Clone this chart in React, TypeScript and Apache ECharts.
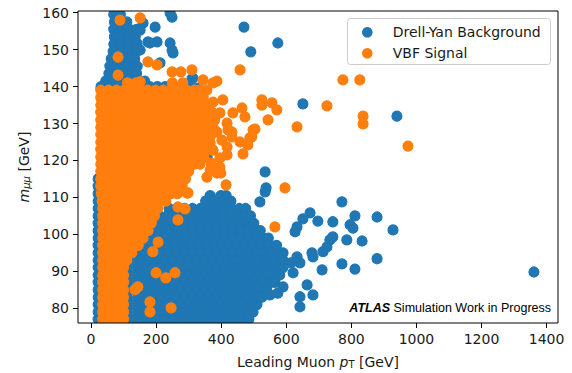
import React, { useEffect, useRef } from "react";
import * as echarts from "echarts";

type Row = [number, number[]];

// ---------------- axes ----------------
const X_TICKS = [0, 200, 400, 600, 800, 1000, 1200, 1400];
const Y_TICKS = [80, 90, 100, 110, 120, 130, 140, 150, 160];
const X_RANGE = [-40, 1435];
const Y_RANGE = [76, 160.46];
const SERIES_NAMES = ["Drell-Yan Background", "VBF Signal"];
const COLORS = ["#1f77b4", "#ff7f0e"];

// ---------------- Drell-Yan (blue) ----------------
// rows: [m_mumu, [leading muon pT ...]]
const dyUpperRows: Row[] = [
  [159.5, [70, 90]],
  [157.5, [72, 95, 110]],
  [155.5, [70, 94, 118, 140]],
  [153.5, [72, 96, 114, 136]],
  [151.5, [70, 94, 118, 141]],
  [149.5, [68, 92, 116, 140]],
  [147.5, [62, 86, 110, 134]],
  [145.5, [58, 82, 106, 130, 142]],
  [143.5, [55, 79, 103, 127, 140]],
  [141.5, [45, 69, 93, 117, 141, 165]],
  [140.0, [31, 60, 84, 108, 132, 156, 180, 204, 228, 252, 276, 300]],
];

const dyLeftStrip: number[][] = [
  [22, 115], [22, 113], [22, 111], [22, 109], [22, 107], [22, 105], [22, 103],
  [22, 101], [22, 99], [22, 97], [22, 95], [22, 93], [22, 91], [22, 89],
  [22, 87], [22, 85], [22, 83], [22, 81], [22, 79], [22, 77],
];

const dyLowerRows: Row[] = [
  [110.5, [366, 399, 415]],
  [109, [352, 380, 405, 430]],
  [107, [240, 264, 288, 312, 336, 360, 384, 408, 432, 456, 475]],
  [105, [210, 234, 258, 282, 306, 330, 354, 378, 402, 426, 450, 474, 490]],
  [103, [190, 214, 238, 262, 286, 310, 334, 358, 382, 406, 430, 454, 478, 500]],
  [101, [170, 194, 218, 242, 266, 290, 314, 338, 362, 386, 410, 434, 458, 482, 506, 520]],
  [99, [150, 174, 198, 222, 246, 270, 294, 318, 342, 366, 390, 414, 438, 462, 486, 510, 530, 545]],
  [97, [140, 162, 186, 210, 234, 258, 282, 306, 330, 354, 378, 402, 426, 450, 474, 498, 522, 546, 570]],
  [95, [120, 144, 168, 192, 216, 240, 264, 288, 312, 336, 360, 384, 408, 432, 456, 480, 504, 528, 552, 576, 590]],
  [93, [112, 132, 156, 180, 204, 228, 252, 276, 300, 324, 348, 372, 396, 420, 444, 468, 492, 516, 540, 564, 590]],
  [91, [112, 144, 168, 192, 216, 240, 264, 288, 312, 336, 360, 384, 408, 432, 456, 480, 504, 528, 552, 576, 590]],
  [89, [112, 132, 156, 180, 204, 228, 252, 276, 300, 324, 348, 372, 396, 420, 444, 468, 492, 516, 540, 564, 580]],
  [87, [112, 144, 168, 192, 216, 240, 264, 288, 312, 336, 360, 384, 408, 432, 456, 480, 504, 528, 552, 565]],
  [85, [112, 132, 156, 180, 204, 228, 252, 276, 300, 324, 348, 372, 396, 420, 444, 468, 492, 516, 540]],
  [83, [112, 144, 168, 192, 216, 240, 264, 288, 312, 336, 360, 384, 408, 432, 456, 480, 504, 525]],
  [81, [112, 132, 156, 180, 204, 228, 252, 276, 300, 324, 348, 372, 396, 420, 444, 468, 492, 510]],
  [79, [112, 144, 168, 192, 216, 240, 264, 288, 312, 336, 360, 384, 408, 432, 456, 480, 495]],
  [77, [112, 132, 156, 180, 204, 228, 252, 276, 300, 324, 348, 372, 396, 420, 444, 468, 485]],
];

const dyScattered: number[][] = [
  [31, 139.6], [175, 152.1], [203, 152.1], [181, 151.8], [243, 160.0], [249, 158.8],
  [252, 149.1], [249, 149.9], [243, 151.8], [212, 146.4], [197, 156.1], [160, 157.2],
  [151, 155.3], [141, 151.8], [151, 149.9], [114, 153.4], [470, 156.1], [491, 149.4],
  [574, 151.8], [310, 142.1], [329, 139.6], [313, 142.3], [233, 139.1], [651, 135.3],
  [940, 132.0], [357, 120.9],
  [535, 116.9], [538, 112.6], [535, 111.5], [519, 108.8], [771, 108.8], [673, 105.8],
  [651, 104.2], [697, 103.6], [743, 103.4], [811, 105.0], [879, 104.7], [796, 102.6],
  [805, 101.7], [928, 101.2], [633, 102.0], [627, 100.7], [743, 99.3], [734, 98.5],
  [786, 98.5], [833, 98.2], [725, 96.6], [713, 95.3], [679, 95.0], [682, 93.9],
  [879, 93.4], [633, 93.9], [642, 92.3], [771, 92.0], [811, 90.6], [710, 90.4],
  [621, 89.6], [1361, 89.8], [664, 86.3], [682, 83.6], [642, 83.1], [642, 80.4],
  [590, 85.8], [574, 84.1], [550, 83.6], [519, 83.1], [498, 79.0], [614, 92.3],
];

// ---------------- VBF signal (orange) ----------------
const vbfCoreRows: Row[] = [
  [141, [112, 138, 250, 282]],
  [139, [30, 54, 78, 102, 126, 150, 174, 198, 222, 246, 270, 294, 318, 334]],
  [137, [30, 42, 66, 90, 114, 138, 162, 186, 210, 234, 258, 282, 306, 330, 345]],
  [135, [30, 54, 78, 102, 126, 150, 174, 198, 222, 246, 270, 294, 318, 342, 362]],
  [133, [30, 42, 66, 90, 114, 138, 162, 186, 210, 234, 258, 282, 306, 330, 354, 372]],
  [131, [30, 54, 78, 102, 126, 150, 174, 198, 222, 246, 270, 294, 318, 342, 366, 380]],
  [129, [30, 42, 66, 90, 114, 138, 162, 186, 210, 234, 258, 282, 306, 330, 354, 375]],
  [127, [30, 54, 78, 102, 126, 150, 174, 198, 222, 246, 270, 294, 318, 342, 370]],
  [125, [30, 42, 66, 90, 114, 138, 162, 186, 210, 234, 258, 282, 306, 330, 354, 365]],
  [123, [30, 54, 78, 102, 126, 150, 174, 198, 222, 246, 270, 294, 318, 342, 360]],
  [121, [30, 42, 66, 90, 114, 138, 162, 186, 210, 234, 258, 282, 306, 330, 347]],
  [119, [30, 54, 78, 102, 126, 150, 174, 198, 222, 246, 270, 294, 318, 335]],
  [117, [30, 42, 66, 90, 114, 138, 162, 186, 210, 234, 258, 282, 300]],
  [115, [30, 54, 78, 102, 126, 150, 174, 198, 222, 246, 270, 290]],
  [113, [30, 42, 66, 90, 114, 138, 162, 186, 210, 234, 258, 280]],
  [111, [32, 54, 78, 102, 126, 150, 174, 198, 222, 246, 265]],
  [109, [34, 42, 66, 90, 114, 138, 162, 186, 210, 230]],
  [107, [36, 54, 78, 102, 126, 150, 174, 198, 205]],
  [105, [36, 42, 66, 90, 114, 138, 162, 186, 195]],
  [103, [36, 54, 78, 102, 126, 150, 174, 185]],
  [101, [36, 42, 66, 90, 114, 138, 162, 175]],
  [99, [36, 54, 78, 102, 126, 150, 160]],
  [97, [36, 42, 66, 90, 114, 138, 145]],
  [95, [36, 54, 78, 102, 125]],
  [93, [36, 42, 66, 90, 110]],
  [91, [36, 54, 78, 100]],
  [89, [36, 42, 66, 90, 100]],
  [87, [36, 54, 78, 100]],
  [85, [36, 42, 66, 90, 100]],
  [83, [36, 54, 78, 100]],
  [81, [36, 42, 66, 90, 100]],
  [79, [36, 54, 78, 100]],
  [77, [36, 42, 66, 90, 100]],
];

const vbfScattered: number[][] = [
  [89, 158.0], [151, 158.6], [83, 148.0], [83, 143.1], [175, 146.7], [203, 145.9],
  [151, 141.3], [249, 144.0], [276, 144.0], [310, 144.5], [344, 141.8], [375, 141.0],
  [387, 141.5], [458, 144.5], [356, 139.1], [405, 136.4], [375, 135.8], [525, 136.4],
  [525, 135.0], [556, 135.6], [571, 133.7], [464, 134.2], [473, 131.8], [436, 132.9],
  [544, 131.0], [504, 128.5], [488, 126.1], [482, 124.2], [467, 121.8], [418, 121.5],
  [396, 120.7], [366, 117.4], [356, 115.5], [433, 127.7], [402, 125.5], [375, 122.8],
  [421, 128.3], [418, 123.7], [387, 116.6], [396, 118.2], [494, 126.4], [498, 128.3],
  [458, 125.0], [633, 129.1], [725, 134.8], [774, 141.8], [826, 141.8], [836, 132.0],
  [836, 129.9], [974, 123.9], [295, 111.2], [264, 112.0], [396, 132.9], [418, 130.1],
  [433, 126.4], [387, 127.7], [366, 124.7], [369, 119.3], [399, 116.6],
  [206, 97.9], [190, 95.3], [200, 89.6], [230, 88.2], [258, 89.6], [144, 85.8],
  [135, 85.0], [181, 81.7], [246, 80.1], [181, 79.0], [565, 102.0], [596, 112.6],
  [415, 113.4], [298, 111.2], [267, 107.4], [289, 106.9], [267, 103.9],
];

const fromRows = (rows: Row[]) =>
  rows.flatMap(([m, pts]) => pts.map((pt) => [pt, m]));

const FONT = "DejaVu Sans";
const TEXT = "#1a1a1a";

export default function App() {
  const ref = useRef<HTMLDivElement>(null);

  useEffect(() => {
    if (!ref.current) return;
    const chart = echarts.init(ref.current, null, {
      renderer: "svg",
      width: 572,
      height: 373,
    });

    const dyData = [
      ...dyLeftStrip,
      ...fromRows(dyUpperRows),
      ...fromRows(dyLowerRows),
      ...dyScattered,
    ];
    const vbfData = [...fromRows(vbfCoreRows), ...vbfScattered];

    const L = 78, T = 11, W = 480, H = 312;

    const axisCommon = {
      type: "value" as const,
      z: 10,
      splitLine: { show: false },
      axisLine: { show: false, onZero: false },
    };

    const subRich = (italicSub: boolean) => ({
      i: { fontFamily: FONT, fontSize: 14, fontStyle: "italic", color: TEXT },
      s: {
        fontFamily: FONT,
        fontSize: 10,
        fontStyle: italicSub ? "italic" : "normal",
        color: TEXT,
        verticalAlign: "bottom",
        lineHeight: 12,
      },
    });

    chart.setOption({
      animation: false,
      backgroundColor: "#ffffff",
      grid: {
        left: L,
        top: T,
        width: W,
        height: H,
        containLabel: false,
        outerBoundsMode: "none",
      },
      xAxis: {
        ...axisCommon,
        min: X_RANGE[0],
        max: X_RANGE[1],
        axisTick: {
          show: true,
          length: 5,
          customValues: X_TICKS,
          lineStyle: { color: "#000", width: 1 },
        },
        axisLabel: {
          customValues: X_TICKS,
          formatter: (v: number) => String(v),
          fontFamily: FONT,
          fontSize: 14,
          color: TEXT,
          margin: 9,
        },
        name: "Leading Muon {i|p}{s|T} [GeV]",
        nameLocation: "middle",
        nameGap: 32,
        nameTextStyle: {
          fontFamily: FONT,
          fontSize: 14,
          color: TEXT,
          rich: subRich(false),
        },
      },
      yAxis: {
        ...axisCommon,
        min: Y_RANGE[0],
        max: Y_RANGE[1],
        axisTick: {
          show: true,
          length: 5,
          customValues: Y_TICKS,
          lineStyle: { color: "#000", width: 1 },
        },
        axisLabel: {
          customValues: Y_TICKS,
          formatter: (v: number) => String(v),
          fontFamily: FONT,
          fontSize: 14,
          color: TEXT,
          margin: 9,
        },
        name: "{i|m}{s|μμ} [GeV]",
        nameLocation: "middle",
        nameRotate: 90,
        nameGap: 47,
        nameTextStyle: {
          fontFamily: FONT,
          fontSize: 14,
          color: TEXT,
          rich: subRich(true),
        },
      },
      series: [
        {
          type: "scatter",
          name: SERIES_NAMES[0],
          data: dyData,
          symbol: "circle",
          symbolSize: 10,
          itemStyle: { color: COLORS[0], opacity: 1, borderColor: COLORS[0], borderWidth: 1.2 },
          z: 2,
          silent: true,
        },
        {
          type: "scatter",
          name: SERIES_NAMES[1],
          data: vbfData,
          symbol: "circle",
          symbolSize: 10,
          itemStyle: { color: COLORS[1], opacity: 1, borderColor: COLORS[1], borderWidth: 1.2 },
          z: 3,
          silent: true,
        },
      ],
      graphic: [
        // white masks outside the plotting area (clip markers like matplotlib)
        { type: "rect", z: 5, silent: true, shape: { x: 0, y: 0, width: 572, height: T }, style: { fill: "#fff" } },
        { type: "rect", z: 5, silent: true, shape: { x: 0, y: T + H, width: 572, height: 373 - T - H }, style: { fill: "#fff" } },
        { type: "rect", z: 5, silent: true, shape: { x: 0, y: 0, width: L, height: 373 }, style: { fill: "#fff" } },
        { type: "rect", z: 5, silent: true, shape: { x: L + W, y: 0, width: 572 - L - W, height: 373 }, style: { fill: "#fff" } },
        // frame (spines)
        {
          type: "rect",
          z: 11,
          silent: true,
          shape: { x: L, y: T, width: W, height: H },
          style: { fill: "none", stroke: "#000", lineWidth: 1 },
        },
        // legend
        {
          type: "rect",
          z: 12,
          silent: true,
          shape: { x: 347.5, y: 18.5, width: 203, height: 46, r: 3 },
          style: { fill: "rgba(255,255,255,0.8)", stroke: "#cccccc", lineWidth: 1 },
        },
        { type: "circle", z: 13, silent: true, shape: { cx: 367.3, cy: 32.3, r: 5.3 }, style: { fill: COLORS[0] } },
        { type: "circle", z: 13, silent: true, shape: { cx: 367.3, cy: 53.3, r: 5.3 }, style: { fill: COLORS[1] } },
        {
          type: "text",
          z: 13,
          silent: true,
          x: 392.7,
          y: 32.3,
          style: { text: SERIES_NAMES[0], fill: TEXT, font: `14px "${FONT}"`, verticalAlign: "middle" },
        },
        {
          type: "text",
          z: 13,
          silent: true,
          x: 392.7,
          y: 53.3,
          style: { text: SERIES_NAMES[1], fill: TEXT, font: `14px "${FONT}"`, verticalAlign: "middle" },
        },
        // ATLAS label
        {
          type: "text",
          z: 12,
          silent: true,
          x: 551,
          y: 308,
          style: {
            text: "{a|ATLAS}{b| Simulation Work in Progress}",
            align: "right",
            verticalAlign: "middle",
            rich: {
              a: {
                fontFamily: "Liberation Sans",
                fontSize: 12.5,
                fontWeight: "bold",
                fontStyle: "italic",
                fill: "#000",
              },
              b: { fontFamily: "Liberation Sans", fontSize: 12.5, fill: "#000" },
            },
          },
        },
      ],
    });

    return () => chart.dispose();
  }, []);

  return (
    <div
      ref={ref}
      style={{ position: "fixed", left: 0, top: 0, width: 572, height: 373, background: "#fff" }}
    />
  );
}
